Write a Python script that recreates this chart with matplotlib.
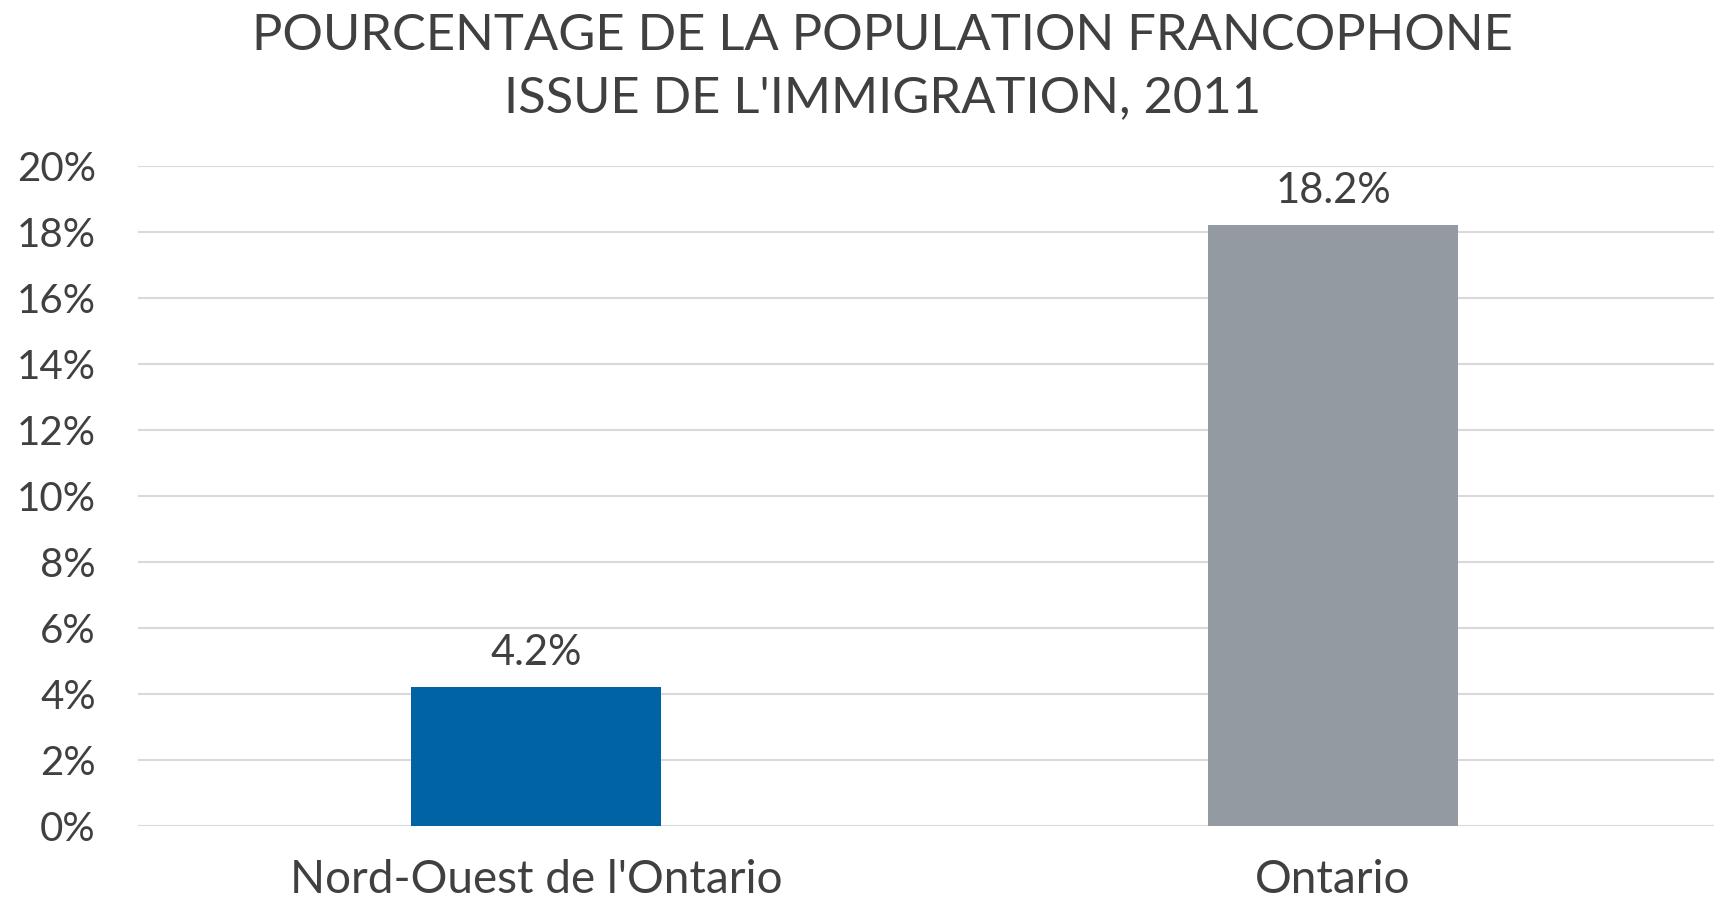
import matplotlib
matplotlib.use("Agg")
from matplotlib import pyplot as plt
from matplotlib.ticker import FuncFormatter

categories = ["Nord-Ouest de l'Ontario", "Ontario"]
values = [4.2, 18.2]
colors = ["#0063A3", "#939AA1"]
yticks = [0, 2, 4, 6, 8, 10, 12, 14, 16, 18, 20]
title = "POURCENTAGE DE LA POPULATION FRANCOPHONE\nISSUE DE L'IMMIGRATION, 2011"

textColor = "#404040"
plt.rcParams['font.family'] = ['Lato', 'DejaVu Sans']

fig = plt.figure(figsize=(17.14, 9), dpi=100)
# axes extends a bit past the right edge, like the original crop
ax = fig.add_axes([137.5 / 1714, 74 / 900, 1594 / 1714, 660 / 900])

x = range(len(categories))
bars = ax.bar(x, values, width=0.314, color=colors, zorder=2)
for b, v in zip(bars, values):
    ax.annotate(f"{v:.1f}%", (b.get_x() + b.get_width() / 2, v),
                xytext=(0, 11), textcoords="offset points",
                ha="center", va="bottom", fontsize=30, color=textColor)

ax.set_xlim(-0.5, len(categories) - 0.5)
ax.set_ylim(0, 20)
ax.set_yticks(yticks)
ax.yaxis.set_major_formatter(FuncFormatter(lambda v, p: f"{v:.0f}%"))
ax.set_xticks(list(x))
ax.set_xticklabels(categories)
ax.grid(axis="y", color="#D9D9D9", linewidth=1.5, zorder=0)
ax.tick_params(axis="y", length=0, labelsize=29, labelcolor=textColor, pad=30)
ax.tick_params(axis="x", length=0, labelsize=33, labelcolor=textColor, pad=24)
for s in ax.spines.values():
    s.set_visible(False)

fig.text(0.515, 0.985, title, ha="center", va="top", fontsize=36.5,
         color=textColor, linespacing=1.42)

fig.savefig("out.png", dpi=100)
